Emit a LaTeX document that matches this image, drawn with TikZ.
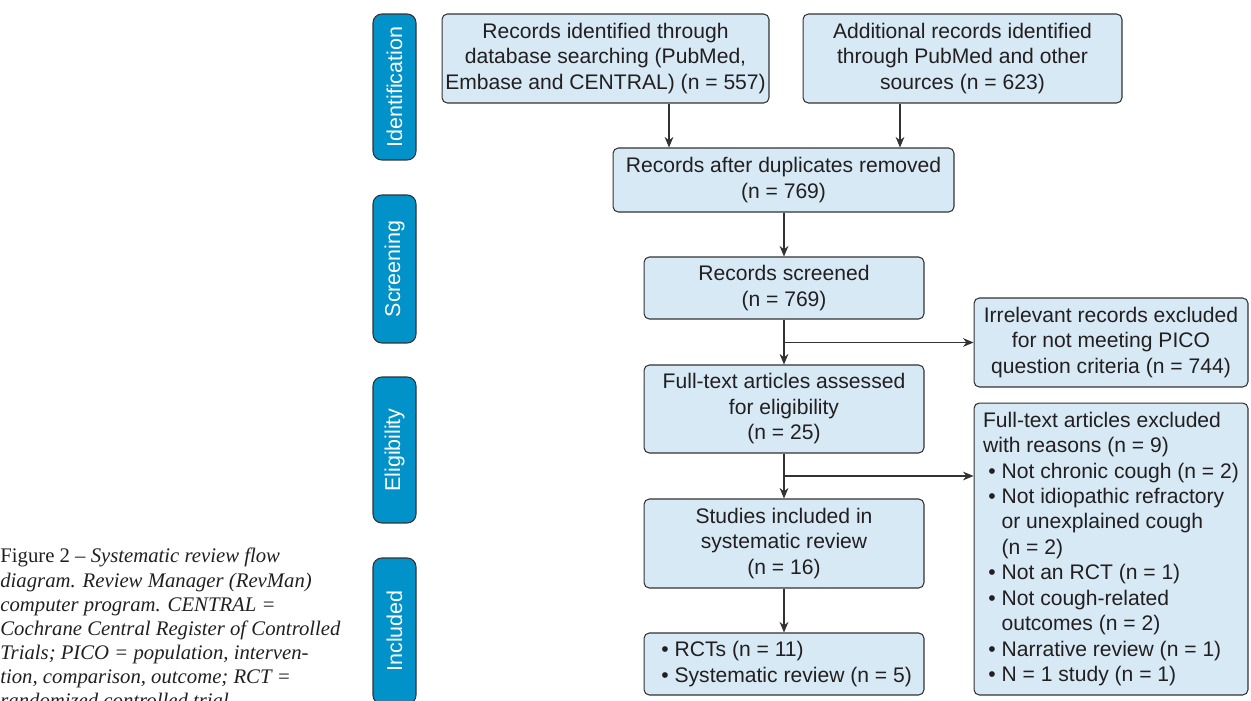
\documentclass[tikz,border=0pt]{standalone}
\usepackage{fontspec}
\setmainfont{Liberation Sans}
\newfontfamily\capfont[Ligatures=TeX]{Liberation Serif}
\usetikzlibrary{arrows.meta}

\definecolor{tabblue}{RGB}{0,146,201}
\definecolor{boxblue}{RGB}{214,233,245}
\definecolor{linegray}{RGB}{50,50,50}
\definecolor{textdark}{RGB}{35,31,32}

\newcommand{\bitem}{\hspace*{3pt}\textbullet\ }
\newcommand{\bcont}{\hspace*{3pt}\phantom{\textbullet}\ }

\begin{document}
\begin{tikzpicture}[x=0.02cm,y=-0.02cm,
		flowbox/.style={draw=linegray,fill=boxblue,rounded corners=3pt,line width=0.6pt,
			align=center,text=textdark,inner sep=0pt,font=\fontsize{12}{14.5}\selectfont},
		sidetab/.style={draw=linegray,fill=tabblue,rounded corners=5pt,line width=0.6pt,
			rotate=90,text=white,inner sep=0pt,minimum height=0.86cm,
			font=\fontsize{12.2}{14.5}\selectfont},
		link/.style={draw=linegray,line width=0.6pt,-{Stealth[length=6pt,width=5pt]}}
		]
		\useasboundingbox (0,0) rectangle (1251,700);
		
		% side tabs
		\node[sidetab,minimum width=2.92cm](T1) at (394.5,87){Identification};
		\node[sidetab,minimum width=2.96cm](T2) at (394.5,269){Screening};
		\node[sidetab,minimum width=2.92cm](T3) at (394.5,450){Eligibility};
		\node[sidetab,minimum width=2.92cm](T4) at (394.5,631){Included};
		
		% main column
		\node[flowbox,minimum width=6.54cm,minimum height=1.78cm](B1) at (605.5,58.5)
		{Records identified through\\database searching (PubMed,\\Embase and CENTRAL) (n = 557)};
		\node[flowbox,minimum width=6.38cm,minimum height=1.78cm](B2) at (962.5,58.5)
		{Additional records identified\\through PubMed and other\\sources (n = 623)};
		\node[flowbox,minimum width=6.82cm,minimum height=1.28cm](Dup) at (783.5,180)
		{Records after duplicates removed\\(n = 769)};
		\node[flowbox,minimum width=5.6cm,minimum height=1.24cm](Scr) at (784,288)
		{Records screened\\(n = 769)};
		\node[flowbox,minimum width=5.6cm,minimum height=1.76cm](Full) at (784,409)
		{Full-text articles assessed\\for eligibility\\(n = 25)};
		\node[flowbox,minimum width=5.6cm,minimum height=1.78cm](Stud) at (784,543.5)
		{Studies included in\\systematic review\\(n = 16)};
		\node[flowbox,minimum width=5.6cm,minimum height=1.24cm,align=left](Incl) at (784,664)
		{\bitem RCTs (n = 11)\\\bitem Systematic review (n = 5)};
		
		% exclusions
		\node[flowbox,minimum width=5.48cm,minimum height=1.78cm](Irr) at (1111,342.5)
		{Irrelevant records excluded\\for not meeting PICO\\question criteria (n = 744)};
		\node[flowbox,minimum width=5.48cm,minimum height=5.84cm,align=left](Excl) at (1111,549)
		{Full-text articles excluded\\with reasons (n = 9)\\
			\bitem Not chronic cough (n = 2)\\
			\bitem Not idiopathic refractory\\
			\bcont or unexplained cough\\
			\bcont (n = 2)\\
			\bitem Not an RCT (n = 1)\\
			\bitem Not cough-related\\
			\bcont outcomes (n = 2)\\
			\bitem Narrative review (n = 1)\\
			\bitem N = 1 study (n = 1)};
		
		% connectors
		\coordinate (a1) at (669,0);
		\coordinate (a2) at (900,0);
		\coordinate (b2) at (0,476);
		\draw[link] (B1.south -| a1) -- (Dup.north -| a1);
		\draw[link] (B2.south -| a2) -- (Dup.north -| a2);
		\draw[link] (Dup.south -| Scr.north) -- (Scr.north);
		\draw[link] (Scr.south) -- (Full.north);
		\draw[link] (Scr.south |- Irr.west) -- (Irr.west);
		\draw[link] (Full.south) -- (Stud.north);
		\draw[link] (Full.south |- b2) -- (Excl.west |- b2);
		\draw[link] (Stud.south) -- (Incl.north);
		
		% caption
		\node[anchor=north west,align=left,inner sep=0pt,text=textdark,
		font=\capfont\fontsize{11.8}{13.7}\selectfont](Cap) at (0,548)
		{Figure 2 – \textit{Systematic review flow}\\
			\textit{diagram. Review Manager (RevMan)}\\
			\textit{computer program. CENTRAL =}\\
			\textit{Cochrane Central Register of Controlled}\\
			\textit{Trials; PICO = population, interven-}\\
			\textit{tion, comparison, outcome; RCT =}\\
			\textit{randomized controlled trial.}};
	\end{tikzpicture}
\end{document}
